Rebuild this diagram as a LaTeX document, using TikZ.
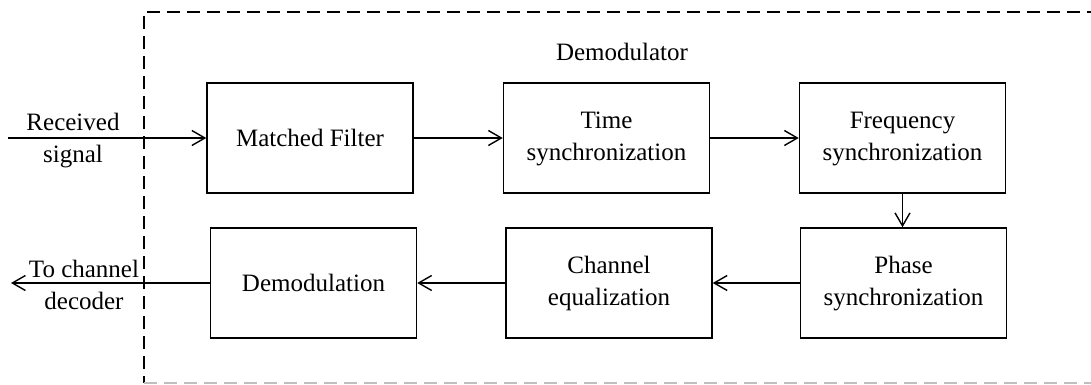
\documentclass[tikz,border=0pt]{standalone}
\usepackage{fontspec}
\setmainfont{Liberation Serif}
\usetikzlibrary{arrows.meta}
% two centred lines, set slightly low in their box
\newcommand\pairlines[2]{\raisebox{-3pt}{\begin{tabular}{@{}c@{}}#1\\#2\end{tabular}}}
\tikzset{
  blk/.style={draw, line width=1.5pt, minimum width=206pt, minimum height=110pt,
              inner sep=0pt, align=center, font=\fontsize{25}{32}\selectfont},
  lbl/.style={inner sep=0pt, align=center, font=\fontsize{25}{32}\selectfont},
  arr/.style={line width=1.4pt, -{Straight Barb[length=13pt,width=15pt,line width=1.4pt]}},
  frame/.style={line width=2pt, dash pattern=on 13pt off 7pt},
}
\begin{document}
\begin{tikzpicture}[x=1pt,y=-1pt]
\useasboundingbox (0,0) rectangle (1091,385);
\clip (0,0) rectangle (1091,385);

% demodulator boundary (open to the right)
\draw[frame] (1100,12) -- (144,12) -- (144,383);
\draw[frame, black!25, line width=1.6pt] (144,383) -- (1100,383);
\node[lbl] (title) at (622,52) {Demodulator};

% processing blocks
\node[blk] (mf) at (310,138)   {Matched Filter};
\node[blk] (ts) at (606.5,138) {\pairlines{Time}{synchronization}};
\node[blk] (fs) at (902.5,138) {\pairlines{Frequency}{synchronization}};
\node[blk] (ps) at (903.5,283) {\pairlines{Phase}{synchronization}};
\node[blk] (ce) at (609,283)   {\pairlines{Channel}{equalization}};
\node[blk] (dm) at (313.5,283) {Demodulation};

% external input / output
\coordinate (in) at (8,138);
\coordinate (out) at (11,283);
\node[lbl] (inlbl) at (73,141) {Received\\signal};
\node[lbl] (outlbl) at (84,285) {To channel\\decoder};

% signal flow
\draw[arr] (in) -- (mf.west);
\draw[arr] (mf.east) -- (ts.west);
\draw[arr] (ts.east) -- (fs.west);
\draw[arr] (fs.south) -- (fs.south |- ps.north);
\draw[arr] (ps.west) -- (ce.east);
\draw[arr] (ce.west) -- (dm.east);
\draw[arr] (dm.west) -- (out);
\end{tikzpicture}
\end{document}
